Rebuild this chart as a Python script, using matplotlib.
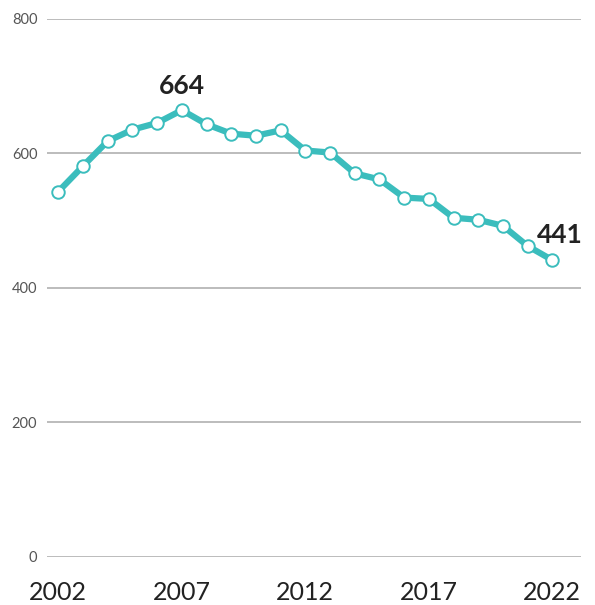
import matplotlib
matplotlib.use("Agg")
import matplotlib.pyplot as plt

years = list(range(2002, 2023))
values = [543, 581, 618, 635, 645, 664, 643, 629, 626, 634, 604,
          601, 570, 561, 534, 532, 504, 501, 492, 462, 441]
y_ticks = [0, 200, 400, 600, 800]
x_ticks = [2002, 2007, 2012, 2017, 2022]

plt.rcParams['font.family'] = ['Lato', 'DejaVu Sans']

W, H = 595, 605
fig = plt.figure(figsize=(W / 100, H / 100), dpi=100)
left, right = 47 / W, 581.5 / W
bottom, top = 1 - 556.7 / H, 1 - 18.7 / H
ax = fig.add_axes([left, bottom, right - left, top - bottom])

teal = '#3bbdbd'
ax.plot(years, values, color=teal, lw=4.5, solid_joinstyle='round',
        marker='o', ms=9, mfc='white', mec=teal, mew=1.4, zorder=3,
        clip_on=False)

ax.set_ylim(0, 800)
ax.set_xlim(2001.54, 2023.18)
ax.set_yticks(y_ticks)
ax.set_xticks(x_ticks)
ax.set_yticklabels([str(v) for v in y_ticks])
ax.set_xticklabels([str(v) for v in x_ticks])
ax.grid(axis='y', color='#aaaaaa', lw=1.1)
ax.set_axisbelow(True)
for s in ax.spines.values():
    s.set_visible(False)
ax.tick_params(axis='y', length=0, pad=7, labelsize=10.5, labelcolor='#555555')
ax.tick_params(axis='x', length=0, pad=17.5, labelsize=18, labelcolor='#222222')

i_max = values.index(max(values))
ax.annotate(str(values[i_max]), (years[i_max], values[i_max]),
            xytext=(0, 16), textcoords='offset pixels', ha='center',
            va='baseline', fontsize=19, fontweight='bold', color='#222222')
ax.annotate(str(values[-1]), (years[-1], values[-1]),
            xytext=(30, 17), textcoords='offset pixels', ha='right',
            va='baseline', fontsize=19, fontweight='bold', color='#222222')

fig.savefig('out.png', dpi=100)
